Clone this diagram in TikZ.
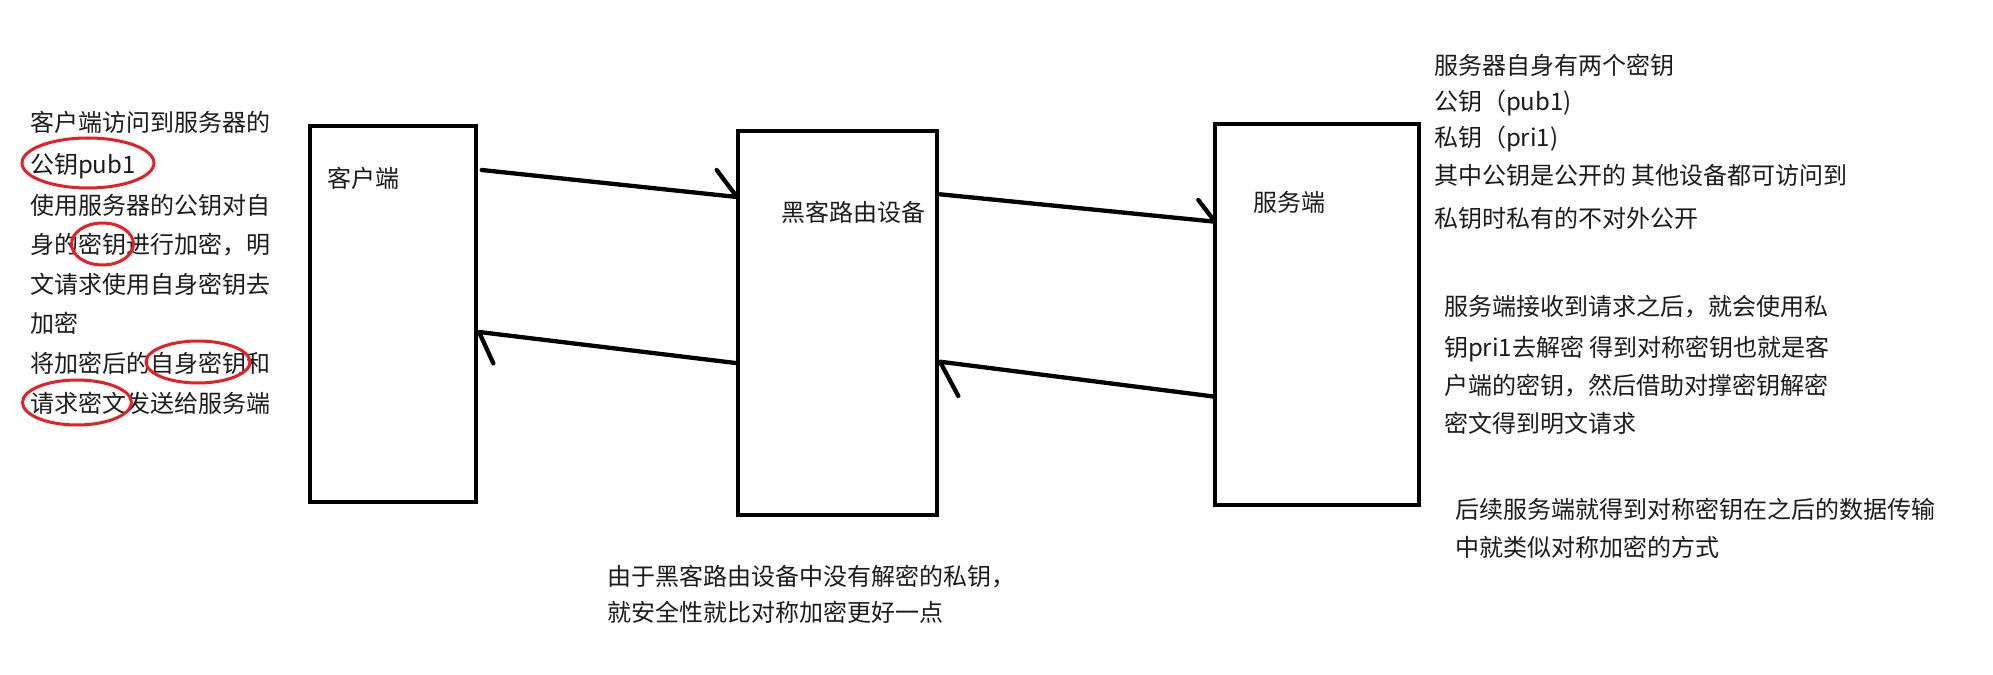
\documentclass[tikz,border=0pt]{standalone}
\usepackage{fontspec}
\setmainfont{Noto Sans CJK SC}
\definecolor{ink}{RGB}{28,28,28}
\definecolor{redink}{RGB}{230,30,38}
\begin{document}
\begin{tikzpicture}[x=1bp,y=-1bp,
  box/.style={draw=black, line width=4.3bp, outer sep=0pt, inner sep=0pt, rectangle},
  txt/.style={anchor=base west, inner sep=0pt, outer sep=0pt, text=ink, font=\fontsize{24bp}{28bp}\selectfont},
  wire/.style={draw=black, line width=4.3bp, line cap=round, line join=round},
  redring/.style={draw=redink, line width=3bp}]
\fill[white] (0,0) rectangle (1993,675);
\useasboundingbox (0,0) rectangle (1993,675);

% boxes
\node[box, minimum width=166bp, minimum height=376.3bp] (client) at (392.7,313.85) {};
\node[box, minimum width=199bp, minimum height=384bp] (hacker) at (837.5,323.3) {};
\node[box, minimum width=203.7bp, minimum height=381.5bp] (server) at (1316.85,314.55) {};

% box labels
\node[txt] (clientlbl) at (327,188) {客户端};
\node[txt] (hackerlbl) at (781.5,221) {黑客路由设备};
\node[txt] (serverlbl) at (1253,211.5) {服务端};

% connector end points on the boxes
\path (client.north east) ++(6,44.3) coordinate (a1s);
\path (hacker.north west) ++(-1,65.7) coordinate (a1e);
\path (hacker.north west) ++(0,232) coordinate (a2s);
\path (client.north east) ++(3.3,206.3) coordinate (a2e);
\path (hacker.north east) ++(3,63) coordinate (a3s);
\path (server.north west) ++(0,97.9) coordinate (a3e);
\path (server.north west) ++(0,272.9) coordinate (a4s);
\path (hacker.north east) ++(3,230.4) coordinate (a4e);

% hand drawn arrows (single barb)
\draw[wire] (a1s) -- (a1e) -- ++(-20.3,-27);
\draw[wire] (a2s) -- (a2e) -- ++(14.3,31.3);
\draw[wire] (a3s) -- (a3e) -- ++(-16.7,-21.7);
\draw[wire] (a4s) -- (a4e) -- ++(18.3,34.3);

% left notes
\node[txt] (L1) at (30,132) {客户端访问到服务器的};
\node[txt] (L2) at (30,174) {公钥pub1};
\node[txt] (L3) at (30,214) {使用服务器的公钥对自};
\node[txt] (L4) at (30,253) {身的密钥进行加密，明};
\node[txt] (L5) at (30,293) {文请求使用自身密钥去};
\node[txt] (L6) at (30,332) {加密};
\node[txt] (L7) at (30,372) {将加密后的自身密钥和};
\node[txt] (L8) at (30,412) {请求密文发送给服务端};

% red hand-drawn rings
\draw[redring] (88,163) ellipse [x radius=66bp, y radius=25bp];
\draw[redring] (102.5,244) ellipse [x radius=31bp, y radius=21bp];
\draw[redring] (198,362) ellipse [x radius=52bp, y radius=21bp];
\draw[redring] (77,402.5) ellipse [x radius=54.5bp, y radius=22.5bp];

% right notes, block 1
\node[txt] (R1) at (1434,75) {服务器自身有两个密钥};
\node[txt] (R2) at (1434,111) {公钥（pub1)};
\node[txt] (R3) at (1434,147) {私钥（pri1)};
\node[txt] (R4) at (1434,185) {其中公钥是公开的 其他设备都可访问到};
\node[txt] (R5) at (1434,227) {私钥时私有的不对外公开};

% right notes, block 2
\node[txt] (S1) at (1444,315) {服务端接收到请求之后，就会使用私};
\node[txt] (S2) at (1444,356) {钥pri1去解密 得到对称密钥也就是客};
\node[txt] (S3) at (1444,394) {户端的密钥，然后借助对撑密钥解密};
\node[txt] (S4) at (1444,432) {密文得到明文请求};

% right notes, block 3
\node[txt] (T1) at (1455,518) {后续服务端就得到对称密钥在之后的数据传输};
\node[txt] (T2) at (1455,556) {中就类似对称加密的方式};

% bottom note
\node[txt] (B1) at (607,585) {由于黑客路由设备中没有解密的私钥，};
\node[txt] (B2) at (607,621) {就安全性就比对称加密更好一点};
\end{tikzpicture}
\end{document}
